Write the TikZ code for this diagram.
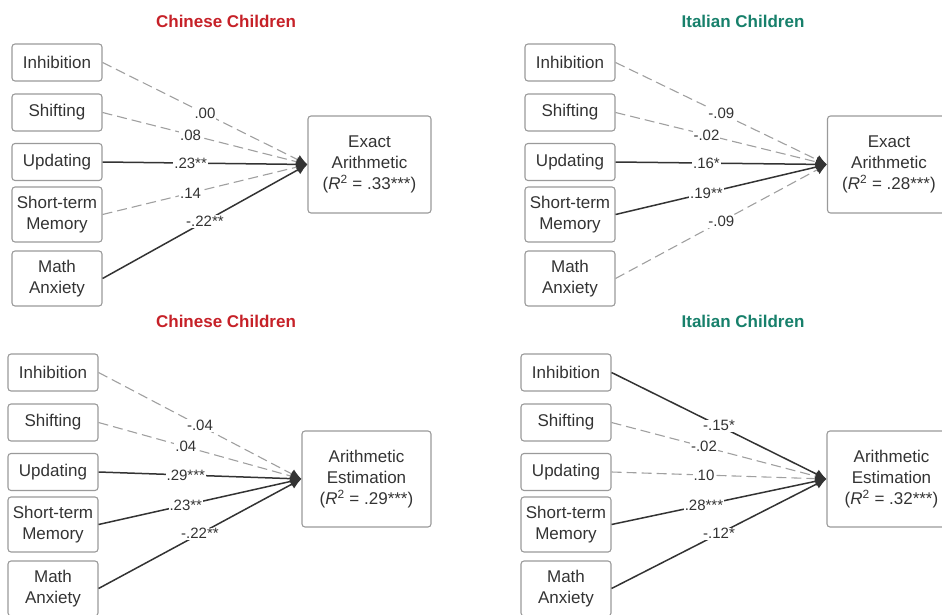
\documentclass[tikz,border=0pt]{standalone}
\usepackage{fontspec}
\setmainfont{Liberation Sans}
\usepackage{tikz}
\usetikzlibrary{arrows.meta}

\definecolor{chred}{HTML}{C62128}
\definecolor{itgreen}{HTML}{17806B}
\definecolor{ink}{HTML}{333333}
\definecolor{rim}{HTML}{9A9A9A}
\definecolor{faint}{HTML}{A0A0A0}

\begin{document}
\begin{tikzpicture}[x=1pt,y=-1pt,
  box/.style={draw=rim, line width=1.1pt, rounded corners=3pt, text=ink, align=center,
    minimum width=90pt, font=\fontsize{17}{21}\selectfont},
  outcome/.style={box, minimum width=123pt, minimum height=97pt},
  title/.style={font=\fontsize{17}{20}\selectfont\bfseries},
  sig/.style={draw=ink, line width=1.5pt, -{Latex[length=11pt,width=10pt,color=ink]}},
  ns/.style={draw=faint, line width=1.1pt, dash pattern=on 10pt off 5pt,
    -{Latex[length=11pt,width=10pt,color=ink]}},
  coef/.style={fill=white, inner sep=1pt, text=ink, font=\fontsize{15}{17}\selectfont}]

\useasboundingbox (0,0) rectangle (942,615);

\node [title, text=chred]    (ttlA) at (226,21)  {Chinese Children};
\node [title, text=itgreen]  (ttlB) at (743,21)  {Italian Children};
\node [title, text=chred]    (ttlC) at (226,321) {Chinese Children};
\node [title, text=itgreen]  (ttlD) at (743,321) {Italian Children};

\foreach \p/\x/\dy in {A/57/0, B/570/0, C/53/310, D/566/310}{
    \node [box, minimum height=37pt] (inh\p) at (\x,62.5+\dy)  {Inhibition};
    \node [box, minimum height=37pt] (shf\p) at (\x,112.5+\dy) {Shifting};
    \node [box, minimum height=37pt] (upd\p) at (\x,162+\dy)   {Updating};
    \node [box, minimum height=55pt] (stm\p) at (\x,214.5+\dy) {Short-term\\Memory};
    \node [box, minimum height=55pt] (man\p) at (\x,278.5+\dy) {Math\\Anxiety};
}

\node [outcome] (tgtA) at (369.5,164.5) {Exact\\Arithmetic\\(\textit{R}\textsuperscript{2} = .33***)};
\node [outcome] (tgtB) at (889,164.5)   {Exact\\Arithmetic\\(\textit{R}\textsuperscript{2} = .28***)};
\node [outcome, minimum width=129pt, minimum height=96pt] (tgtC) at (366.5,479)
    {Arithmetic\\Estimation\\(\textit{R}\textsuperscript{2} = .29***)};
\node [outcome, minimum width=129pt, minimum height=96pt] (tgtD) at (891.5,479)
    {Arithmetic\\Estimation\\(\textit{R}\textsuperscript{2} = .32***)};

\draw [ns]  (inhA.east) -- node [coef, pos=.5]  {.00}    (tgtA.west);
\draw [ns]  (shfA.east) -- node [coef, pos=.43] {.08}    (tgtA.west);
\draw [sig] (updA.east) -- node [coef, pos=.43] {.23**}  (tgtA.west);
\draw [ns]  (stmA.east) -- node [coef, pos=.43] {.14}    (tgtA.west);
\draw [sig] (manA.east) -- node [coef, pos=.5]  {-.22**} (tgtA.west);

\draw [ns]  (inhB.east) -- node [coef, pos=.5]  {-.09}   (tgtB.west);
\draw [ns]  (shfB.east) -- node [coef, pos=.43] {-.02}   (tgtB.west);
\draw [sig] (updB.east) -- node [coef, pos=.43] {.16*}   (tgtB.west);
\draw [sig] (stmB.east) -- node [coef, pos=.43] {.19**}  (tgtB.west);
\draw [ns]  (manB.east) -- node [coef, pos=.5]  {-.09}   (tgtB.west);

\draw [ns]  (inhC.east) -- node [coef, pos=.5]  {-.04}   (tgtC.west);
\draw [ns]  (shfC.east) -- node [coef, pos=.43] {.04}    (tgtC.west);
\draw [sig] (updC.east) -- node [coef, pos=.43] {.29***} (tgtC.west);
\draw [sig] (stmC.east) -- node [coef, pos=.43] {.23**}  (tgtC.west);
\draw [sig] (manC.east) -- node [coef, pos=.5]  {-.22**} (tgtC.west);

\draw [sig] (inhD.east) -- node [coef, pos=.5]  {-.15*}  (tgtD.west);
\draw [ns]  (shfD.east) -- node [coef, pos=.43] {-.02}   (tgtD.west);
\draw [ns]  (updD.east) -- node [coef, pos=.43] {.10}    (tgtD.west);
\draw [sig] (stmD.east) -- node [coef, pos=.43] {.28***} (tgtD.west);
\draw [sig] (manD.east) -- node [coef, pos=.5]  {-.12*}  (tgtD.west);

\end{tikzpicture}
\end{document}
